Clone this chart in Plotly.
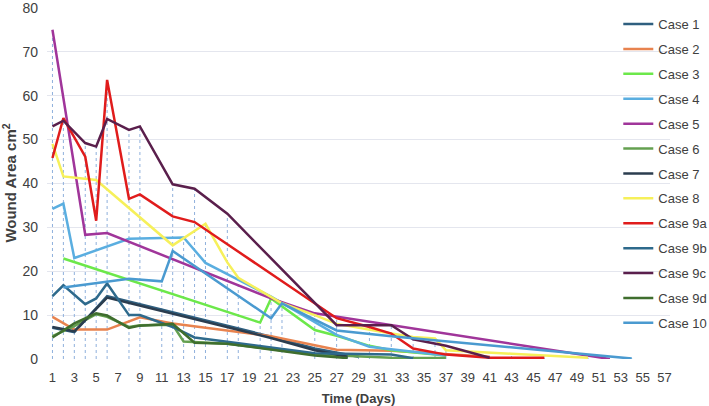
import plotly.graph_objects as go

# ---- data (day, wound area cm²) ----
case_names = ["Case 1", "Case 2", "Case 3", "Case 4", "Case 5", "Case 6", "Case 7",
              "Case 8", "Case 9a", "Case 9b", "Case 9c", "Case 9d", "Case 10"]

case1_days = [1, 3, 6, 21, 25, 27, 29]
case1_vals = [7.1, 6.1, 14.3, 5.1, 2.4, 1.4, 0.5]

case2_days = [1, 3, 6, 9, 12, 21, 27, 32, 41]
case2_vals = [9.6, 6.7, 6.7, 9.5, 8.1, 5.2, 2.1, 1.9, 0.5]

case3_days = [2, 20, 21, 25, 27, 30, 32, 34, 37]
case3_vals = [22.9, 8.3, 13.8, 6.6, 5.3, 3.0, 2.0, 1.5, 0.8]

case4_days = [1, 2, 3, 8, 13, 15, 21, 27, 30, 37]
case4_vals = [34.2, 35.4, 23.0, 27.4, 27.7, 21.9, 14.2, 5.5, 2.8, 0.8]

case5_days = [1, 4, 6, 21, 25, 52]
case5_vals = [75.0, 28.3, 28.7, 13.8, 10.4, 0.0]

case6_days = [1, 3, 5, 6, 8, 9, 12, 13, 17, 25, 32, 37]
case6_vals = [5.2, 7.5, 10.2, 9.6, 7.3, 7.7, 7.8, 4.0, 3.5, 1.0, 0.3, 0.2]

case7_days = [1, 3, 6, 21, 25, 28]
case7_vals = [7.3, 6.3, 14.0, 4.8, 2.0, 0.5]

case8_days = [1, 2, 5, 12, 15, 17, 18, 22, 25, 27, 32, 34, 36, 37, 43, 50]
case8_vals = [49.0, 41.6, 40.8, 25.9, 30.8, 22.0, 18.5, 12.7, 10.0, 8.0, 5.8, 5.0, 4.7, 2.0, 1.2, 0.3]

case9a_days = [1, 2, 4, 5, 6, 8, 9, 12, 14, 27, 30, 32, 34, 37, 41, 46]
case9a_vals = [45.8, 54.9, 46.1, 31.5, 63.6, 36.5, 37.5, 32.5, 31.2, 9.3, 7.3, 5.8, 2.4, 1.0, 0.3, 0.3]

case9b_days = [1, 2, 4, 5, 6, 8, 9, 12, 14, 17, 25, 32, 34]
case9b_vals = [14.3, 16.8, 12.5, 13.8, 17.2, 10.0, 10.0, 7.3, 4.9, 3.9, 1.3, 1.0, 0.2]

case9c_days = [1, 2, 4, 5, 6, 8, 9, 12, 14, 17, 27, 32, 34, 37, 41]
case9c_vals = [53.0, 54.3, 49.2, 48.4, 54.7, 52.2, 53.0, 39.8, 38.8, 33.1, 7.7, 7.7, 4.5, 3.0, 0.3]

case9d_days = [1, 3, 5, 6, 8, 9, 12, 14, 17, 25, 28]
case9d_vals = [4.9, 8.1, 10.4, 9.9, 7.1, 7.6, 8.0, 3.7, 3.5, 0.8, 0.2]

case10_days = [2, 8, 11, 12, 21, 22, 27, 32, 54]
case10_vals = [16.3, 18.3, 17.7, 24.6, 9.3, 12.7, 6.5, 5.2, 0.1]

colors = ["#2f5f7f", "#e8834f", "#6ce84a", "#5aaee0", "#a0359a", "#64a050", "#2b3d4f",
          "#f6f05a", "#e01c1c", "#2e6a8c", "#5a1f4c", "#3f6e2e", "#4a9ad0"]

y_ticks = [0, 10, 20, 30, 40, 50, 60, 70, 80]
x_ticks = list(range(1, 58, 2))

series_days = [case1_days, case2_days, case3_days, case4_days, case5_days, case6_days, case7_days,
               case8_days, case9a_days, case9b_days, case9c_days, case9d_days, case10_days]
series_vals = [case1_vals, case2_vals, case3_vals, case4_vals, case5_vals, case6_vals, case7_vals,
               case8_vals, case9a_vals, case9b_vals, case9c_vals, case9d_vals, case10_vals]

FONT = "Arial, 'Liberation Sans', Helvetica, sans-serif"

fig = go.Figure()

# drop lines: from the highest value at each day to the axis
maxima = {}
for ds, vs in zip(series_days, series_vals):
    for d, v in zip(ds, vs):
        maxima[d] = max(maxima.get(d, 0), v)
drop_x, drop_y = [], []
for d in sorted(maxima):
    drop_x += [d, d, None]
    drop_y += [0, maxima[d], None]
fig.add_trace(go.Scatter(x=drop_x, y=drop_y, mode="lines", showlegend=False,
                         hoverinfo="skip",
                         line=dict(color="#8fb0dc", width=1, dash="dot")))

for i, (name, ds, vs) in enumerate(zip(case_names, series_days, series_vals)):
    fig.add_trace(go.Scatter(x=ds, y=vs, mode="lines", name=name, legendgroup=name,
                             line=dict(color=colors[i], width=2.5)))

fig.update_layout(
    width=709, height=406,
    margin=dict(l=47, r=39, t=7, b=47, autoexpand=False),
    paper_bgcolor="white", plot_bgcolor="white",
    font=dict(family=FONT, size=13, color="#404040"),
    legend=dict(x=0.917, xanchor="left", y=0.994, yanchor="top",
                bgcolor="rgba(0,0,0,0)", tracegroupgap=5,
                font=dict(size=13, color="#404040"), traceorder="grouped"),
    xaxis=dict(range=[0.5, 57.5], tickmode="array", tickvals=x_ticks,
               ticktext=[str(t) for t in x_ticks], showgrid=False, zeroline=False,
               showline=False, ticks="", tickfont=dict(size=13, color="#404040"),
               ticklabelstandoff=9, ticklabeloverflow="allow", automargin=False,
               title=dict(text="<b>Time (Days)</b>", font=dict(size=13, color="#404040"),
                          standoff=10)),
    yaxis=dict(range=[0, 80.2], tickmode="array", tickvals=y_ticks,
               showgrid=True, gridcolor="#e4e6ee", gridwidth=1, zeroline=False,
               showline=False, ticks="", tickfont=dict(size=14, color="#404040"),
               ticklabelstandoff=8, ticklabeloverflow="allow", automargin=False,
               title=dict(text="<b>Wound Area cm<sup>2</sup></b>",
                          font=dict(size=15, color="#404040"), standoff=3)),
)

fig.write_html("out.html")
